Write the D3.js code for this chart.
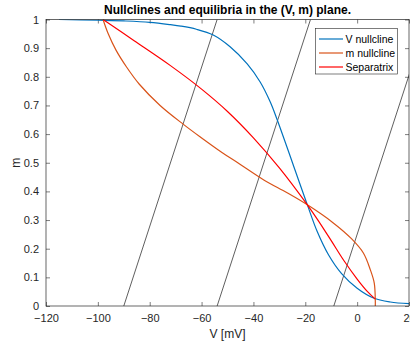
<!DOCTYPE html>
<html>
<head>
<meta charset="utf-8">
<script src="https://cdn.jsdelivr.net/npm/d3@7/dist/d3.min.js"></script>
<style>
  html, body { margin: 0; padding: 0; background: #fff; }
  svg { display: block; font-family: "Liberation Sans", Arial, sans-serif; }
</style>
</head>
<body>
<svg id="chart" width="410" height="345"></svg>
<script>
// V nullcline: [V (mV), m]
const vNullcline = [
  [-115, 1.0], [-100, 0.998], [-90, 0.995], [-80, 0.99], [-72, 0.982],
  [-68, 0.977], [-62, 0.966], [-55.5, 0.946], [-49, 0.905], [-42.4, 0.845],
  [-37.4, 0.782], [-33.5, 0.712], [-30.8, 0.649], [-19.2, 0.353],
  [-15.4, 0.26], [-11, 0.178], [-6, 0.113], [0, 0.062], [6.3, 0.028],
  [12.8, 0.014], [20, 0.008]
];

// m nullcline: [V (mV), m]
const mNullcline = [
  [-98, 1.0], [-96, 0.95], [-93, 0.893], [-89, 0.835], [-84, 0.774],
  [-76, 0.70], [-67, 0.634], [-60.5, 0.59], [-52, 0.535], [-45.9, 0.499],
  [-36, 0.44], [-27, 0.395], [-19.2, 0.353], [-9.2, 0.29], [-2.2, 0.235],
  [2.4, 0.185], [5.1, 0.126], [6.6, 0.08], [7, 0.02], [7, 0]
];

// Separatrix: [V (mV), m]
const separatrix = [
  [-98, 1.0], [-86, 0.926], [-72, 0.839], [-60, 0.757], [-50, 0.679],
  [-40, 0.587], [-30, 0.482], [-19.2, 0.353], [-15, 0.298], [-10, 0.228],
  [-5, 0.157], [0, 0.094], [4, 0.05], [7, 0.024]
];

// Straight reference lines: V at m = 0 and V at m = 1
const straightLines = [
  [-90, -54], [-54, -18], [-9, 27]
];

const xTicks = [-120, -100, -80, -60, -40, -20, 0, 20];
const yTicks = [0, 0.1, 0.2, 0.3, 0.4, 0.5, 0.6, 0.7, 0.8, 0.9, 1];
const seriesNames = ["V nullcline", "m nullcline", "Separatrix"];
const seriesColors = ["#0072BD", "#D95319", "#FF0000"];

const svg = d3.select("#chart");
const plotLeft = 46, plotRight = 409, plotTop = 19.5, plotBottom = 306;
const axisColor = "#262626";

const x = d3.scaleLinear().domain([-120, 20]).range([plotLeft, plotRight]);
const y = d3.scaleLinear().domain([0, 1]).range([plotBottom, plotTop]);

svg.append("defs").append("clipPath").attr("id", "plotClip")
  .append("rect").attr("x", plotLeft).attr("y", plotTop)
  .attr("width", plotRight - plotLeft).attr("height", plotBottom - plotTop);

// Axes: bottom/left with labels, top/right mirrored ticks only (ticks point inward)
const tickLen = 4;
const gx = svg.append("g").attr("transform", `translate(0,${plotBottom})`)
  .call(d3.axisBottom(x).tickValues(xTicks).tickSize(-tickLen).tickPadding(8)
    .tickFormat(d3.format("d")));
const gy = svg.append("g").attr("transform", `translate(${plotLeft},0)`)
  .call(d3.axisLeft(y).tickValues(yTicks).tickSize(-tickLen).tickPadding(7)
    .tickFormat(d => d === 0 || d === 1 ? d3.format("d")(d) : d3.format(".1f")(d)));
const gxt = svg.append("g").attr("transform", `translate(0,${plotTop})`)
  .call(d3.axisTop(x).tickValues(xTicks).tickSize(-tickLen).tickFormat(""));
const gyr = svg.append("g").attr("transform", `translate(${plotRight},0)`)
  .call(d3.axisRight(y).tickValues(yTicks).tickSize(-tickLen).tickFormat(""));

[gx, gy, gxt, gyr].forEach(g => {
  g.select(".domain").remove();
  g.selectAll(".tick line").attr("stroke", axisColor).attr("stroke-width", 0.6);
  g.selectAll(".tick text").attr("fill", axisColor)
    .style("font-size", "11px").style("font-family", "'Liberation Sans', Arial, sans-serif");
});

// Straight lines
const plot = svg.append("g").attr("clip-path", "url(#plotClip)");
plot.selectAll("line.ref").data(straightLines).join("line")
  .attr("class", "ref")
  .attr("x1", d => x(d[0])).attr("y1", y(0))
  .attr("x2", d => x(d[1])).attr("y2", y(1))
  .attr("stroke", "#1a1a1a").attr("stroke-width", 0.7);

// Curves
const line = d3.line().x(d => x(d[0])).y(d => y(d[1])).curve(d3.curveCatmullRom.alpha(0.5));
[vNullcline, mNullcline, separatrix].forEach((s, i) => {
  plot.append("path").datum(s).attr("d", line)
    .attr("fill", "none").attr("stroke", seriesColors[i]).attr("stroke-width", 1.2);
});

// Axes box
svg.append("rect").attr("x", plotLeft).attr("y", plotTop)
  .attr("width", plotRight - plotLeft).attr("height", plotBottom - plotTop)
  .attr("fill", "none").attr("stroke", axisColor).attr("stroke-width", 0.7);

// Title and axis labels
svg.append("text").attr("x", (plotLeft + plotRight) / 2).attr("y", 14)
  .attr("text-anchor", "middle").style("font-size", "12px").style("font-weight", "bold")
  .attr("fill", "#000").text("Nullclines and equilibria in the (V, m) plane.");
svg.append("text").attr("x", (plotLeft + plotRight) / 2).attr("y", 338)
  .attr("text-anchor", "middle").style("font-size", "12px").attr("fill", axisColor)
  .text("V [mV]");
svg.append("text").attr("transform", `translate(20,${(plotTop + plotBottom) / 2}) rotate(-90)`)
  .attr("text-anchor", "middle").style("font-size", "12px").attr("fill", axisColor)
  .text("m");

// Legend
const lg = svg.append("g");
lg.append("rect").attr("x", 315.5).attr("y", 28.5).attr("width", 82).attr("height", 45.5)
  .attr("fill", "#fff").attr("stroke", axisColor).attr("stroke-width", 0.6);
seriesNames.forEach((name, i) => {
  const ly = 39 + i * 14;
  lg.append("line").attr("x1", 319).attr("x2", 343).attr("y1", ly).attr("y2", ly)
    .attr("stroke", seriesColors[i]).attr("stroke-width", 1.2);
  lg.append("text").attr("x", 345.5).attr("y", ly + 3.7)
    .style("font-size", "10.5px").attr("fill", "#000").text(name);
});
</script>
</body>
</html>
